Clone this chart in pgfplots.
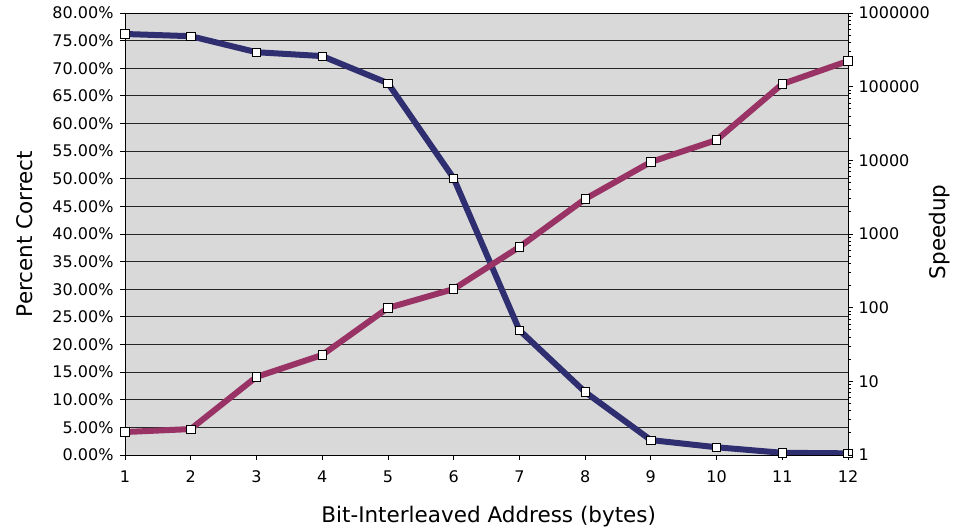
\documentclass[border=0pt]{standalone}
\usepackage{pgfplots}
\pgfplotsset{compat=1.18}
\usepackage{fontspec}
\setmainfont{DejaVu Sans}
\definecolor{navy}{HTML}{2E2E70}
\definecolor{plum}{HTML}{993366}
\definecolor{bggray}{HTML}{D9D9D9}
\begin{document}
\begin{tikzpicture}[x=1bp,y=1bp]
\useasboundingbox (-125,-74) rectangle (831,455);
\pgfplotsset{
  common/.style={
    at={(0,0)}, anchor=south west, scale only axis, width=723bp, height=442bp,
    xmin=1, xmax=12,
    tick align=outside, major tick length=5bp,
    tick style={black, line width=0.8bp},
    axis line style={black, line width=0.8bp},
    /pgf/number format/assume math mode=true,
    ticklabel style={font=\fontsize{16bp}{19bp}\selectfont},
    label style={font=\fontsize{21.5bp}{25bp}\selectfont},
  },
  mk/.style={mark=square*, mark size=4.2bp, mark options={fill=white, draw=black, line width=0.7bp}},
}
\begin{axis}[common,
  ymin=0, ymax=80, xtick={1,...,12}, ytick={0,5,...,80},
  xtick pos=bottom, ytick pos=left,
  axis background/.style={fill=bggray},
  ymajorgrids, major grid style={black!85, line width=0.9bp},
  yticklabel={\pgfmathprintnumber[fixed,fixed zerofill,precision=2]{\tick}\%},
  xticklabel style={yshift=-7bp},
  yticklabel style={xshift=-3bp},
  xlabel={Bit-Interleaved Address (bytes)},
  ylabel={Percent Correct},
  xlabel style={at={(axis description cs:0.503,-0.1516)}, anchor=base},
  ylabel style={at={(axis description cs:-0.1273,0.5)}, anchor=base, rotate=0},
]
\addplot[navy, line width=6bp, mk] coordinates {
(1,76.2) (2,75.8) (3,72.9) (4,72.2) (5,67.3) (6,50.1)
(7,22.6) (8,11.4) (9,2.7) (10,1.4) (11,0.4) (12,0.3)
};
\end{axis}
\begin{axis}[common,
  ymode=log, ymin=1, ymax=1000000,
  ytick={1,10,100,1000,10000,100000,1000000},
  yticklabels={1,10,100,1000,10000,100000,1000000},
  axis x line=none, axis y line*=right,
  yticklabel style={xshift=2bp},
  ylabel={Speedup},
  ylabel style={at={(axis description cs:1.1349,0.505)}, anchor=base, rotate=0},
]
\addplot[plum, line width=6bp, mk] coordinates {
(1,2.05) (2,2.25) (3,11.5) (4,22.8) (5,99) (6,179)
(7,666) (8,2985) (9,9490) (10,18880) (11,108700) (12,222900)
};
\end{axis}
\end{tikzpicture}
\end{document}
